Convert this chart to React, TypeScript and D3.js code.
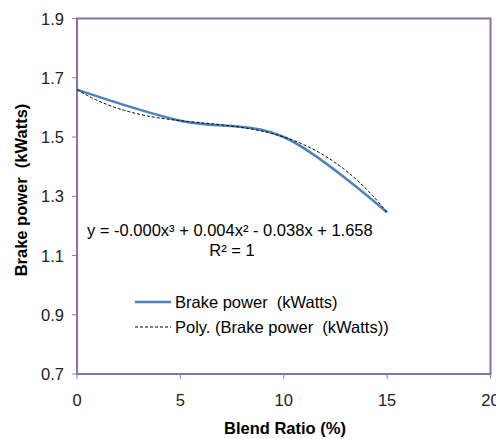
import React from "react";
import * as d3 from "d3";

const blendRatio = [0, 5, 10, 15];
const brakePower = [1.66, 1.555, 1.5, 1.245];
const xTicks = [0, 5, 10, 15, 20];
const yTicks = [0.7, 0.9, 1.1, 1.3, 1.5, 1.7, 1.9];
const equationText = "y = -0.000x³ + 0.004x² - 0.038x + 1.658";
const r2Text = "R² = 1";
const seriesName = "Brake power  (kWatts)";
const trendName = "Poly. (Brake power  (kWatts))";
const xTitle = "Blend Ratio (%)";
const yTitle = "Brake power  (kWatts)";

// Lagrange interpolation (cubic through 4 points = polynomial trendline, R² = 1)
function poly(x: number): number {
  let s = 0;
  for (let i = 0; i < blendRatio.length; i++) {
    let t = brakePower[i];
    for (let j = 0; j < blendRatio.length; j++) {
      if (j !== i) t *= (x - blendRatio[j]) / (blendRatio[i] - blendRatio[j]);
    }
    s += t;
  }
  return s;
}

export default function App() {
  const W = 496, H = 439;
  const left = 77, right = 490.5, top = 18.5, bottom = 374;
  const x = d3.scaleLinear().domain([0, 20]).range([left, right]);
  const y = d3.scaleLinear().domain([0.7, 1.9]).range([bottom, top]);
  const font = "'Liberation Sans', Arial, sans-serif";
  const fs = 16.5;
  const pre = { whiteSpace: "pre" as const };

  const line = d3
    .line<number>()
    .x((_, i) => x(blendRatio[i]))
    .y((d) => y(d))
    .curve(d3.curveCardinal.tension(0));

  const trendXs = d3.range(0, 15.0001, 0.1);
  const trendLine = d3
    .line<number>()
    .x((d) => x(d))
    .y((d) => y(poly(d)));

  const border = "#8b6fad";
  return (
    <svg width={W} height={H} style={{ position: "absolute", left: 0, top: 0 }}>
      <rect x={0} y={0} width={W} height={H} fill="#fff" />
      {yTicks.map((t) => (
        <g key={"y" + t}>
          <line x1={left - 5} x2={left} y1={y(t)} y2={y(t)} stroke="#888" strokeWidth={1} />
          <text x={64} y={y(t) + 6} textAnchor="end" fontFamily={font} fontSize={fs} fill="#222">
            {t.toFixed(1)}
          </text>
        </g>
      ))}
      {xTicks.map((t) => (
        <g key={"x" + t}>
          <line x1={x(t)} x2={x(t)} y1={bottom} y2={bottom + 5} stroke="#888" strokeWidth={1} />
          <text x={x(t)} y={406} textAnchor="middle" fontFamily={font} fontSize={fs} fill="#222">
            {t}
          </text>
        </g>
      ))}
      <rect x={left} y={top} width={right - left} height={bottom - top} fill="none" stroke={border} strokeWidth={2} />
      <path d={line(brakePower) || ""} fill="none" stroke="#4f81bd" strokeWidth={2.5} />
      <path d={trendLine(trendXs) || ""} fill="none" stroke="#000" strokeWidth={1} strokeDasharray="3,2" />
      <text x={87} y={236} fontFamily={font} fontSize={fs} fill="#000" style={pre}>
        {equationText}
      </text>
      <text x={232} y={256} textAnchor="middle" fontFamily={font} fontSize={fs} fill="#000" style={pre}>
        {r2Text}
      </text>
      <line x1={135} x2={171} y1={302} y2={302} stroke="#4f81bd" strokeWidth={2.5} />
      <text x={175} y={308} fontFamily={font} fontSize={fs} fill="#000" style={pre}>
        {seriesName}
      </text>
      <line x1={135} x2={171} y1={327} y2={327} stroke="#000" strokeWidth={1} strokeDasharray="3,2" />
      <text x={175} y={333} fontFamily={font} fontSize={fs} fill="#000" style={pre}>
        {trendName}
      </text>
      <text x={285} y={434} textAnchor="middle" fontFamily={font} fontSize={fs} fontWeight="bold" fill="#000" style={pre}>
        {xTitle}
      </text>
      <text
        transform={`translate(27,190) rotate(-90)`}
        textAnchor="middle"
        fontFamily={font}
        fontSize={fs}
        fontWeight="bold"
        fill="#000"
        style={pre}
      >
        {yTitle}
      </text>
    </svg>
  );
}
